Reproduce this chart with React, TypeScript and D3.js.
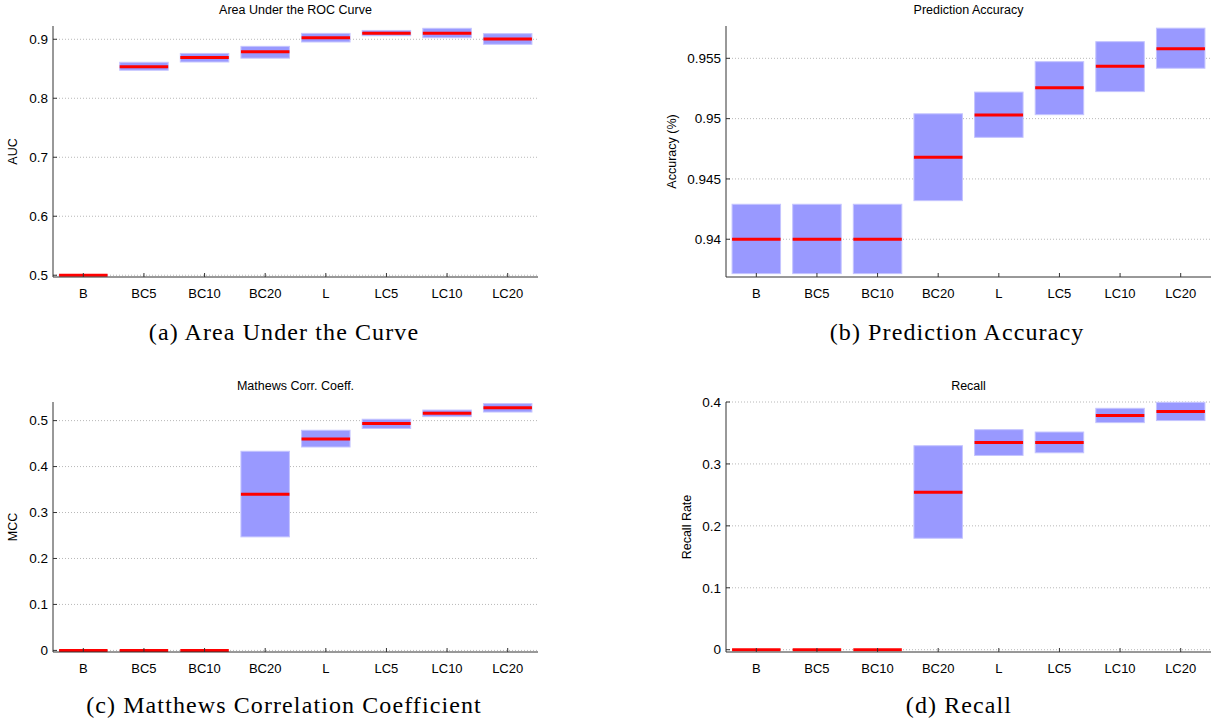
import React from 'react';
import * as d3 from 'd3';

// categories shared by all four panels
const categories = ['B', 'BC5', 'BC10', 'BC20', 'L', 'LC5', 'LC10', 'LC20'];

// (a) AUC
const aucMed = [0.5, 0.8536, 0.869, 0.879, 0.9027, 0.910, 0.910, 0.9005];
const aucLow = [0.4995, 0.8475, 0.8615, 0.868, 0.8954, 0.906, 0.9027, 0.8915];
const aucHigh = [0.5005, 0.861, 0.876, 0.888, 0.910, 0.915, 0.9186, 0.9095];
const aucTicks = [0.5, 0.6, 0.7, 0.8, 0.9];

// (b) accuracy
const accMed = [0.94, 0.94, 0.94, 0.9468, 0.9503, 0.95257, 0.95434, 0.9558];
const accLow = [0.93715, 0.93715, 0.93715, 0.9432, 0.94845, 0.95033, 0.95224, 0.95418];
const accHigh = [0.9429, 0.9429, 0.9429, 0.9504, 0.9522, 0.95472, 0.95638, 0.9575];
const accTicks = [0.94, 0.945, 0.95, 0.955];

// (c) MCC
const mccMed = [0, 0, 0, 0.34, 0.46, 0.4935, 0.516, 0.528];
const mccLow = [0, 0, 0, 0.247, 0.4426, 0.483, 0.5087, 0.5187];
const mccHigh = [0, 0, 0, 0.4333, 0.479, 0.503, 0.523, 0.537];
const mccTicks = [0, 0.1, 0.2, 0.3, 0.4, 0.5];

// (d) recall
const recMed = [0, 0, 0, 0.2544, 0.3348, 0.3348, 0.378, 0.3845];
const recLow = [0, 0, 0, 0.18, 0.3137, 0.318, 0.3667, 0.37];
const recHigh = [0, 0, 0, 0.3294, 0.3553, 0.3515, 0.3898, 0.3995];
const recTicks = [0, 0.1, 0.2, 0.3, 0.4];

const sans = '"Liberation Sans", Arial, sans-serif';
const serif = '"Liberation Serif", "DejaVu Serif", serif';

type PanelProps = {
  title: string; ylabel: string; caption: string;
  med: number[]; low: number[]; high: number[]; ticks: number[];
  domain: [number, number];
  x0: number; x1: number; y0: number; y1: number;
  ylabelX: number; captionX: number; captionY: number;
};

// 0.950 -> 0.95, 0.0 -> 0
const fmt = (v: number) => d3.format('.3f')(v).replace(/0+$/, '').replace(/\.$/, '');

function Panel(p: PanelProps) {
  const x = d3.scaleBand<string>().domain(categories).range([p.x0, p.x1]).padding(0);
  const y = d3.scaleLinear().domain(p.domain).range([p.y1, p.y0]);
  const bw = x.bandwidth() * 0.8;
  const midY = (p.y0 + p.y1) / 2;
  return (
    <g>
      {/* grid */}
      {p.ticks.map(t => (
        <line key={'g' + t} x1={p.x0} x2={p.x1} y1={y(t)} y2={y(t)}
          stroke="#b8b8b8" strokeWidth={1} strokeDasharray="1,2" />
      ))}
      {/* boxes */}
      {categories.map((c, i) => {
        const cx = (x(c) as number) + x.bandwidth() / 2;
        const top = y(p.high[i]);
        const bot = y(p.low[i]);
        return (
          <g key={c}>
            {bot - top > 0.5 && (
              <rect x={cx - bw / 2} y={top} width={bw} height={bot - top}
                fill="#9999ff" stroke="#c4c4ff" strokeWidth={1} />
            )}
            <line x1={cx - bw / 2} x2={cx + bw / 2} y1={y(p.med[i])} y2={y(p.med[i])}
              stroke="#ff0000" strokeWidth={3} />
          </g>
        );
      })}
      {/* axes */}
      <line x1={p.x0} x2={p.x0} y1={p.y0} y2={p.y1} stroke="#333" strokeWidth={1} />
      <line x1={p.x0} x2={p.x1} y1={p.y1} y2={p.y1} stroke="#333" strokeWidth={1} />
      {p.ticks.map(t => (
        <g key={'t' + t}>
          <line x1={p.x0} x2={p.x0 + 4} y1={y(t)} y2={y(t)} stroke="#333" />
          <text x={p.x0 - 5} y={y(t)} dy="0.35em" textAnchor="end"
            fontFamily={sans} fontSize={13.5} fill="#000">{fmt(t)}</text>
        </g>
      ))}
      {categories.map(c => {
        const cx = (x(c) as number) + x.bandwidth() / 2;
        return (
          <g key={'x' + c}>
            <line x1={cx} x2={cx} y1={p.y1} y2={p.y1 - 4} stroke="#333" />
            <text x={cx} y={p.y1 + 21} textAnchor="middle" fontFamily={sans}
              fontSize={13} fill="#000">{c}</text>
          </g>
        );
      })}
      <text x={(p.x0 + p.x1) / 2} y={p.y0 - 12} textAnchor="middle" fontFamily={sans}
        fontSize={12.5} fill="#000">{p.title}</text>
      <text transform={`translate(${p.ylabelX},${midY}) rotate(-90)`} textAnchor="middle"
        dy="0.35em" fontFamily={sans} fontSize={12.5} fill="#000">{p.ylabel}</text>
      <text x={p.captionX} y={p.captionY} textAnchor="middle" fontFamily={serif}
        fontSize={24} letterSpacing={1.1} fill="#000">{p.caption}</text>
    </g>
  );
}

export default function App() {
  return (
    <div style={{ position: 'absolute', left: 0, top: 0 }}>
      <svg width={1214} height={721} style={{ display: 'block', background: '#fff' }}>
        <Panel title="Area Under the ROC Curve" ylabel="AUC" caption="(a) Area Under the Curve"
          med={aucMed} low={aucLow} high={aucHigh} ticks={aucTicks} domain={[0.497, 0.9225]}
          x0={53} x1={538} y0={26} y1={277} ylabelX={13} captionX={284} captionY={340} />
        <Panel title="Prediction Accuracy" ylabel="Accuracy (%)" caption="(b) Prediction Accuracy"
          med={accMed} low={accLow} high={accHigh} ticks={accTicks} domain={[0.93687, 0.95768]}
          x0={726} x1={1211} y0={26} y1={277} ylabelX={672} captionX={957} captionY={340} />
        <Panel title="Mathews Corr. Coeff." ylabel="MCC" caption="(c) Matthews Correlation Coefficient"
          med={mccMed} low={mccLow} high={mccHigh} ticks={mccTicks} domain={[-0.0035, 0.5405]}
          x0={53} x1={538} y0={402} y1={652} ylabelX={13} captionX={284} captionY={713} />
        <Panel title="Recall" ylabel="Recall Rate" caption="(d) Recall"
          med={recMed} low={recLow} high={recHigh} ticks={recTicks} domain={[-0.0037, 0.4]}
          x0={726} x1={1211} y0={402} y1={652} ylabelX={687} captionX={959} captionY={713} />
      </svg>
    </div>
  );
}
